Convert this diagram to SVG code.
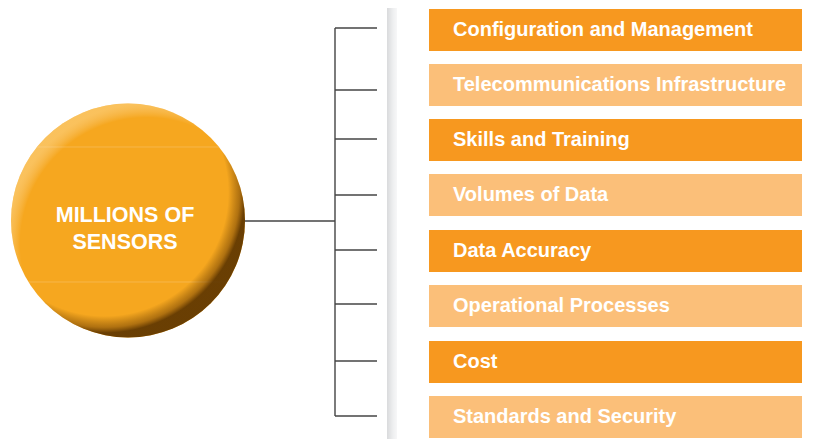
<svg xmlns="http://www.w3.org/2000/svg" width="829" height="439" viewBox="0 0 829 439">
<defs>
<radialGradient id="shade" cx="0.4" cy="0.38" r="0.6">
<stop offset="0" stop-color="#5A3300" stop-opacity="0"/>
<stop offset="0.88" stop-color="#5A3300" stop-opacity="0"/>
<stop offset="0.96" stop-color="#6A3C02" stop-opacity="0.5"/>
<stop offset="1" stop-color="#5A3300" stop-opacity="0.9"/>
</radialGradient>
<radialGradient id="hl" cx="0.58" cy="0.6" r="0.6">
<stop offset="0" stop-color="#FFFFFF" stop-opacity="0"/>
<stop offset="0.9" stop-color="#FFFFFF" stop-opacity="0"/>
<stop offset="1" stop-color="#FFE2A8" stop-opacity="0.45"/>
</radialGradient>
<linearGradient id="band" x1="0" y1="0" x2="1" y2="0">
<stop offset="0" stop-color="#D9DADC"/>
<stop offset="0.6" stop-color="#EEEFF0"/>
<stop offset="1" stop-color="#F7F7F8"/>
</linearGradient>
<clipPath id="cc"><circle cx="128" cy="220.5" r="117"/></clipPath>
</defs>
<style>
.dark{fill:#F7981F}
.light{fill:#FBBF79}
.lbl{font-family:"Liberation Sans",Arial,sans-serif;font-weight:bold;font-size:20px;fill:#FFFFFF}
.ctr{font-family:"Liberation Sans",Arial,sans-serif;font-weight:bold;font-size:21.5px;fill:#FFFFFF;text-anchor:middle}
.ln{stroke:#454545;stroke-width:1.4;fill:none}
</style>
<rect x="0" y="0" width="829" height="439" fill="#FFFFFF"/>
<rect x="387" y="8" width="10" height="431" fill="url(#band)"/>
<g id="connectors">
<path class="ln" d="M245,221 H335 M335,28 V416 M335,28 H377 M335,90 H377 M335,139 H377 M335,195 H377 M335,250 H377 M335,304 H377 M335,361 H377 M335,416 H377"/>
</g>
<g id="center">
<circle cx="128" cy="220.5" r="117" fill="#F6A71F"/>
<g clip-path="url(#cc)">
<line x1="0" y1="147" x2="250" y2="147" stroke="#F9BA55" stroke-width="0.8"/>
<line x1="0" y1="282" x2="250" y2="282" stroke="#F9BA55" stroke-width="0.8"/>
</g>
<circle cx="128" cy="220.5" r="117" fill="url(#hl)"/>
<circle cx="128" cy="220.5" r="117" fill="url(#shade)"/>
<text class="ctr" x="125" y="222">MILLIONS OF</text>
<text class="ctr" x="125" y="249">SENSORS</text>
</g>
<g id="n1"><rect class="dark" x="429" y="9" width="373" height="42"/><text class="lbl" x="453" y="35.5">Configuration and Management</text></g>
<g id="n2"><rect class="light" x="429" y="64" width="373" height="42"/><text class="lbl" x="453" y="90.5">Telecommunications Infrastructure</text></g>
<g id="n3"><rect class="dark" x="429" y="119" width="373" height="42"/><text class="lbl" x="453" y="145.5">Skills and Training</text></g>
<g id="n4"><rect class="light" x="429" y="174" width="373" height="42"/><text class="lbl" x="453" y="200.5">Volumes of Data</text></g>
<g id="n5"><rect class="dark" x="429" y="230" width="373" height="42"/><text class="lbl" x="453" y="256.5">Data Accuracy</text></g>
<g id="n6"><rect class="light" x="429" y="285" width="373" height="42"/><text class="lbl" x="453" y="311.5">Operational Processes</text></g>
<g id="n7"><rect class="dark" x="429" y="341" width="373" height="42"/><text class="lbl" x="453" y="367.5">Cost</text></g>
<g id="n8"><rect class="light" x="429" y="396" width="373" height="42"/><text class="lbl" x="453" y="422.5">Standards and Security</text></g>
</svg>
